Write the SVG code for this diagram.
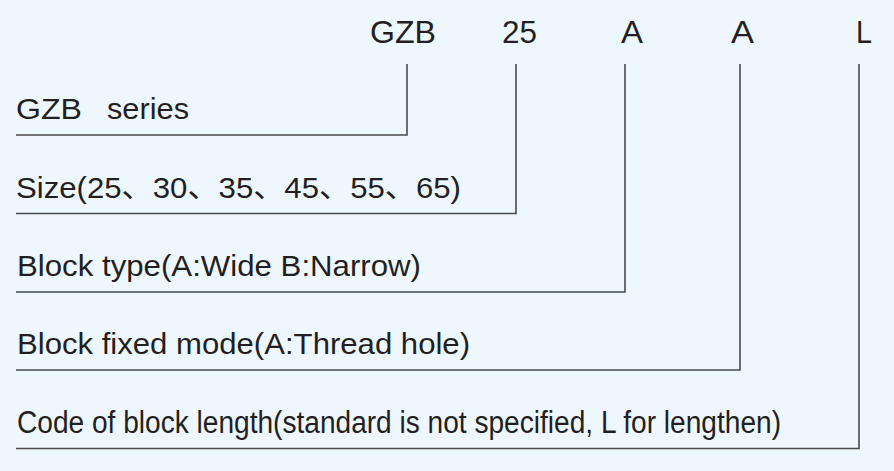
<svg xmlns="http://www.w3.org/2000/svg" width="894" height="471" viewBox="0 0 894 471">
<style>
.t{font-family:"Liberation Sans","Noto Sans CJK SC",Arial,sans-serif;font-size:29px;fill:#231f20}
.h{font-family:"Liberation Sans",Arial,sans-serif;font-size:31px;fill:#231f20}
.c{fill:none;stroke:#4a4a4a;stroke-width:1.6}
</style>
<rect width="894" height="471" fill="#eef7fe"/>
<g id="code">
<text class="h" x="370" y="43" textLength="66" lengthAdjust="spacingAndGlyphs">GZB</text>
<text class="h" x="502" y="43" textLength="35" lengthAdjust="spacingAndGlyphs">25</text>
<text class="h" x="621" y="43" textLength="22" lengthAdjust="spacingAndGlyphs">A</text>
<text class="h" x="731" y="43" textLength="23" lengthAdjust="spacingAndGlyphs">A</text>
<text class="h" x="856" y="43" textLength="16" lengthAdjust="spacingAndGlyphs">L</text>
</g>
<g id="series"><text class="t" x="16" y="119" textLength="66" lengthAdjust="spacingAndGlyphs">GZB</text><text class="t" x="107" y="119" textLength="82" lengthAdjust="spacingAndGlyphs">series</text></g>
<g id="size"><text class="t" x="16" y="198" textLength="445" lengthAdjust="spacingAndGlyphs">Size(25、30、35、45、55、65)</text></g>
<g id="blocktype"><text class="t" x="17" y="276" style="font-size:30px" textLength="404" lengthAdjust="spacingAndGlyphs">Block type(A:Wide B:Narrow)</text></g>
<g id="fixedmode"><text class="t" x="17" y="354" style="font-size:30px" textLength="453" lengthAdjust="spacingAndGlyphs">Block fixed mode(A:Thread hole)</text></g>
<g id="length"><text class="t" x="17" y="433" style="font-size:31px" textLength="764" lengthAdjust="spacingAndGlyphs">Code of block length(standard is not specified, L for lengthen)</text></g>
<g id="connectors">
<polyline class="c" points="407,64 407,135 16,135"/>
<polyline class="c" points="516,64 516,213.5 16,213.5"/>
<polyline class="c" points="625,64 625,292 16,292"/>
<polyline class="c" points="740,64 740,370 16,370"/>
<polyline class="c" points="859,64 859,448.5 16,448.5"/>
</g>
</svg>
